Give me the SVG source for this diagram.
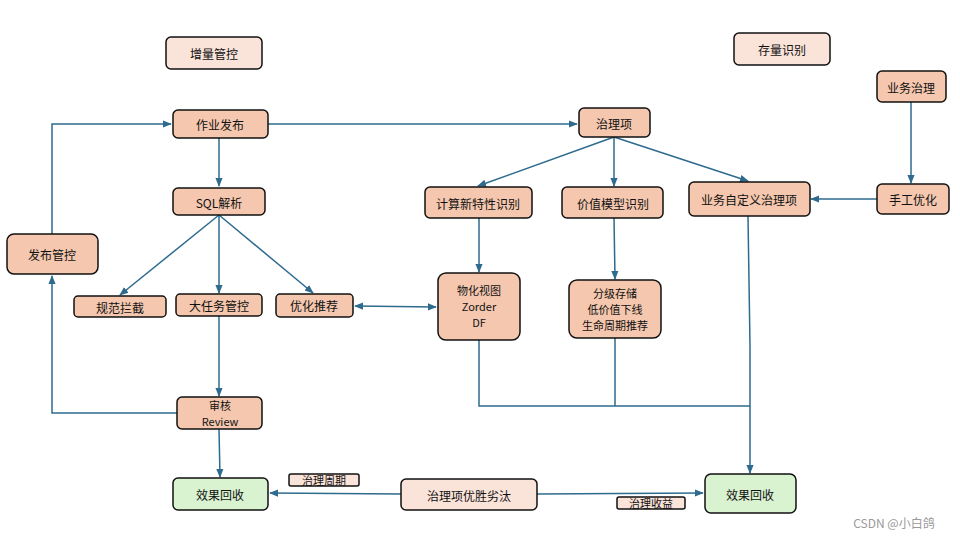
<svg xmlns="http://www.w3.org/2000/svg" width="960" height="540" viewBox="0 0 960 540">
<style>
.n{fill:#f4c7ae;stroke:#111;stroke-width:1.5}
.l{fill:#fae3d9;stroke:#111;stroke-width:1.5}
.g{fill:#d9f2d0;stroke:#111;stroke-width:1.5}
text{font-family:"Noto Sans CJK SC","Noto Sans",sans-serif;font-size:12px;fill:#111;text-anchor:middle;dominant-baseline:central}
.s{font-size:11px}
.c path{fill:none;stroke:#2e6b8f;stroke-width:1.5}
</style>
<defs>
<marker id="a" viewBox="0 0 10 10" refX="9" refY="5" markerWidth="6" markerHeight="6" orient="auto-start-reverse"><path d="M0,1L10,5L0,9z" fill="#2e6b8f"/></marker>
</defs>
<rect width="960" height="540" fill="#fff"/>
<g class="c">
<path d="M268,124H577" marker-end="url(#a)"/>
<path d="M219,138V186" marker-end="url(#a)"/>
<path d="M219,215L120,295" marker-end="url(#a)"/>
<path d="M219,215V293" marker-end="url(#a)"/>
<path d="M219,215L313,293" marker-end="url(#a)"/>
<path d="M219,316V396" marker-end="url(#a)"/>
<path d="M219,429L220,477" marker-end="url(#a)"/>
<path d="M177,413H52V276" marker-end="url(#a)"/>
<path d="M52,234V124H171" marker-end="url(#a)"/>
<path d="M355,306L436,307" marker-start="url(#a)" marker-end="url(#a)"/>
<path d="M614,137L478,186" marker-end="url(#a)"/>
<path d="M614,137V186" marker-end="url(#a)"/>
<path d="M614,137L748,181" marker-end="url(#a)"/>
<path d="M479,218V272" marker-end="url(#a)"/>
<path d="M614,218L615,279" marker-end="url(#a)"/>
<path d="M911,102V183" marker-end="url(#a)"/>
<path d="M877,199H811" marker-end="url(#a)"/>
<path d="M479,340V406H750"/>
<path d="M615,338V406"/>
<path d="M748,216L750,346V473" marker-end="url(#a)"/>
<path d="M401,494L270,493" marker-end="url(#a)"/>
<path d="M537,494L703,493" marker-end="url(#a)"/>
</g>
<g id="zlgk"><rect class="l" x="166" y="37" width="96" height="32" rx="5"/><text x="214" y="53">增量管控</text></g>
<g id="clsb"><rect class="l" x="734" y="33" width="96" height="32" rx="5"/><text x="782" y="49">存量识别</text></g>
<g id="ywzl"><rect class="n" x="877" y="71" width="69" height="31" rx="5"/><text x="911" y="87">业务治理</text></g>
<g id="zyfb"><rect class="n" x="173" y="110" width="95" height="28" rx="5"/><text x="220" y="124">作业发布</text></g>
<g id="zlx"><rect class="n" x="579" y="108" width="71" height="29" rx="5"/><text x="614" y="123">治理项</text></g>
<g id="sql"><rect class="n" x="173" y="188" width="92" height="27" rx="5"/><text x="219" y="202">SQL解析</text></g>
<g id="jsx"><rect class="n" x="425" y="187" width="107" height="31" rx="5"/><text x="478" y="203">计算新特性识别</text></g>
<g id="jzmx"><rect class="n" x="562" y="187" width="101" height="31" rx="5"/><text x="613" y="203">价值模型识别</text></g>
<g id="ywzdy"><rect class="n" x="689" y="182" width="121" height="34" rx="5"/><text x="749" y="199">业务自定义治理项</text></g>
<g id="sgyh"><rect class="n" x="877" y="184" width="72" height="30" rx="5"/><text x="913" y="199">手工优化</text></g>
<g id="fbgk"><rect class="n" x="7" y="234" width="91" height="40" rx="7"/><text x="52" y="254">发布管控</text></g>
<g id="gflj"><rect class="n" x="74" y="296" width="92" height="21" rx="4"/><text x="120" y="307">规范拦截</text></g>
<g id="drwgk"><rect class="n" x="176" y="294" width="86" height="22" rx="4"/><text x="219" y="305">大任务管控</text></g>
<g id="yhtj"><rect class="n" x="276" y="294" width="77" height="23" rx="4"/><text x="314" y="305">优化推荐</text></g>
<g id="whst"><rect class="n" x="438" y="273" width="82" height="67" rx="8"/><text class="s" x="479" y="290">物化视图</text><text class="s" x="479" y="306">Zorder</text><text class="s" x="479" y="322">DF</text></g>
<g id="fjcc"><rect class="n" x="569" y="280" width="92" height="58" rx="8"/><text class="s" x="615" y="293">分级存储</text><text class="s" x="615" y="309">低价值下线</text><text class="s" x="615" y="325">生命周期推荐</text></g>
<g id="sh"><rect class="n" x="177" y="397" width="85" height="32" rx="5"/><text class="s" x="220" y="405">审核</text><text class="s" x="220" y="421">Review</text></g>
<g id="xghs1"><rect class="g" x="173" y="478" width="95" height="32" rx="5"/><text x="220" y="494">效果回收</text></g>
<g id="zlzq"><rect class="l" x="289" y="474" width="70" height="12" rx="2"/><text class="s" x="324" y="480">治理周期</text></g>
<g id="ysly"><rect class="l" x="401" y="479" width="136" height="31" rx="5"/><text x="469" y="495">治理项优胜劣汰</text></g>
<g id="zlsy"><rect class="l" x="617" y="497" width="68" height="12" rx="2"/><text class="s" x="651" y="503">治理收益</text></g>
<g id="xghs2"><rect class="g" x="705" y="474" width="91" height="39" rx="6"/><text x="750" y="494">效果回收</text></g>
<text x="894" y="522" style="fill:#999;font-size:12px">CSDN @小白鸽</text>
</svg>
